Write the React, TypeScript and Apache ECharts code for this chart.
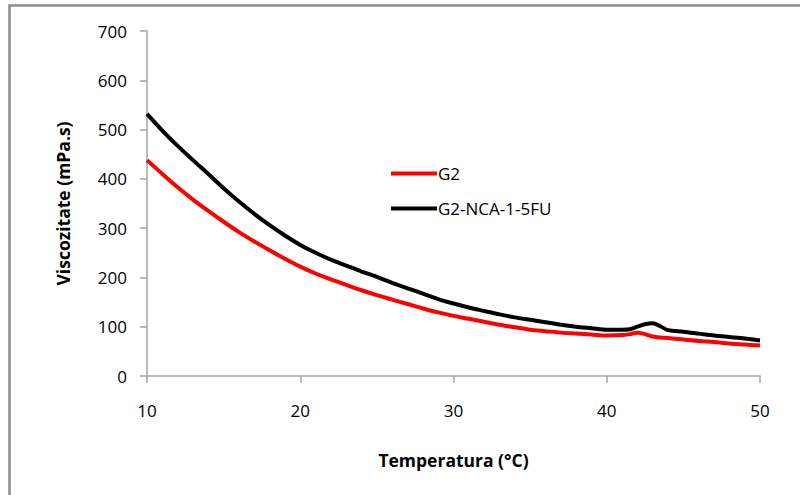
import React, { useEffect, useRef } from "react";
import * as echarts from "echarts";

const temps = [10, 11, 12, 13, 14, 15, 16, 17, 18, 19, 20, 21, 22, 23, 24, 25, 26, 27, 28, 29, 30, 31, 32, 33, 34, 35, 36, 37, 38, 39, 40, 41, 41.5, 42, 42.5, 43, 43.5, 44, 45, 46, 47, 48, 49, 50];
const g2 = [438, 410, 383, 358, 335, 313, 292, 273, 255, 238, 222, 208, 196, 185, 174, 164, 155, 146, 137, 129, 122, 116, 110, 104, 99, 94, 91, 88, 86, 84, 82, 83, 85, 88, 85, 80, 78, 77, 74, 71, 69, 66, 64, 62];
const g2nca = [532, 498, 467, 438, 410, 381, 354, 329, 306, 285, 266, 250, 236, 224, 212, 201, 189, 178, 167, 156, 147, 139, 132, 125, 119, 114, 109, 104, 100, 97, 94, 94, 95, 100, 105, 107, 101, 93, 90, 86, 82, 79, 76, 72];
const seriesNames = ["G2", "G2-NCA-1-5FU"];
const xTitle = "Temperatura (°C)";
const yTitle = "Viscozitate (mPa.s)";

const FONT = "'Open Sans', 'Noto Sans', sans-serif";

export default function App() {
  const ref = useRef<HTMLDivElement>(null);
  useEffect(() => {
    document.body.style.margin = "0";
    const chart = echarts.init(ref.current!, null, { renderer: "svg" });
    const axisLine = { lineStyle: { color: "#a6a6a6", width: 1.5 } };
    chart.setOption({
      animation: false,
      backgroundColor: "#fff",
      graphic: [
        {
          type: "rect",
          shape: { x: 9.5, y: 5.5, width: 900, height: 600 },
          style: { fill: "none", stroke: "#8c8c8c", lineWidth: 2.5 },
          silent: true,
        },
      ],
      legend: {
        orient: "vertical",
        left: 386,
        top: 160,
        itemGap: 18,
        itemWidth: 46,
        itemHeight: 4,
        icon: "rect",
        textStyle: { fontFamily: FONT, fontSize: 17, color: "#000", padding: [0, 0, 0, -4] },
        data: seriesNames,
      },
      grid: { left: 147, right: 40, top: 31, bottom: 119 },
      xAxis: {
        type: "value",
        min: 10,
        max: 50,
        interval: 10,
        name: xTitle,
        nameLocation: "middle",
        nameGap: 75,
        nameTextStyle: { fontFamily: FONT, fontSize: 17.5, fontWeight: "bold", color: "#000" },
        axisLine,
        axisTick: { show: true, length: 7, lineStyle: { color: "#a6a6a6", width: 1.5 } },
        axisLabel: { fontFamily: FONT, fontSize: 17, color: "#000", margin: 26 },
        splitLine: { show: false },
      },
      yAxis: {
        type: "value",
        min: 0,
        max: 700,
        interval: 100,
        name: yTitle,
        nameLocation: "middle",
        nameGap: 75,
        nameRotate: 90,
        nameTextStyle: { fontFamily: FONT, fontSize: 17.5, fontWeight: "bold", color: "#000" },
        axisLine: { show: true, ...axisLine },
        axisTick: { show: true, length: 7, lineStyle: { color: "#a6a6a6", width: 1.5 } },
        axisLabel: { fontFamily: FONT, fontSize: 17, color: "#000", margin: 20 },
        splitLine: { show: false },
      },
      series: [
        {
          name: seriesNames[0],
          type: "line",
          data: temps.map((t, i) => [t, g2[i]]),
          smooth: 0.3,
          showSymbol: false,
          symbol: "none",
          color: "#ff0000",
          lineStyle: { color: "#ff0000", width: 4 },
        },
        {
          name: seriesNames[1],
          type: "line",
          data: temps.map((t, i) => [t, g2nca[i]]),
          smooth: 0.3,
          showSymbol: false,
          symbol: "none",
          color: "#000000",
          lineStyle: { color: "#000000", width: 4 },
        },
      ],
    });
    return () => chart.dispose();
  }, []);
  return <div ref={ref} style={{ width: 800, height: 495 }} />;
}
